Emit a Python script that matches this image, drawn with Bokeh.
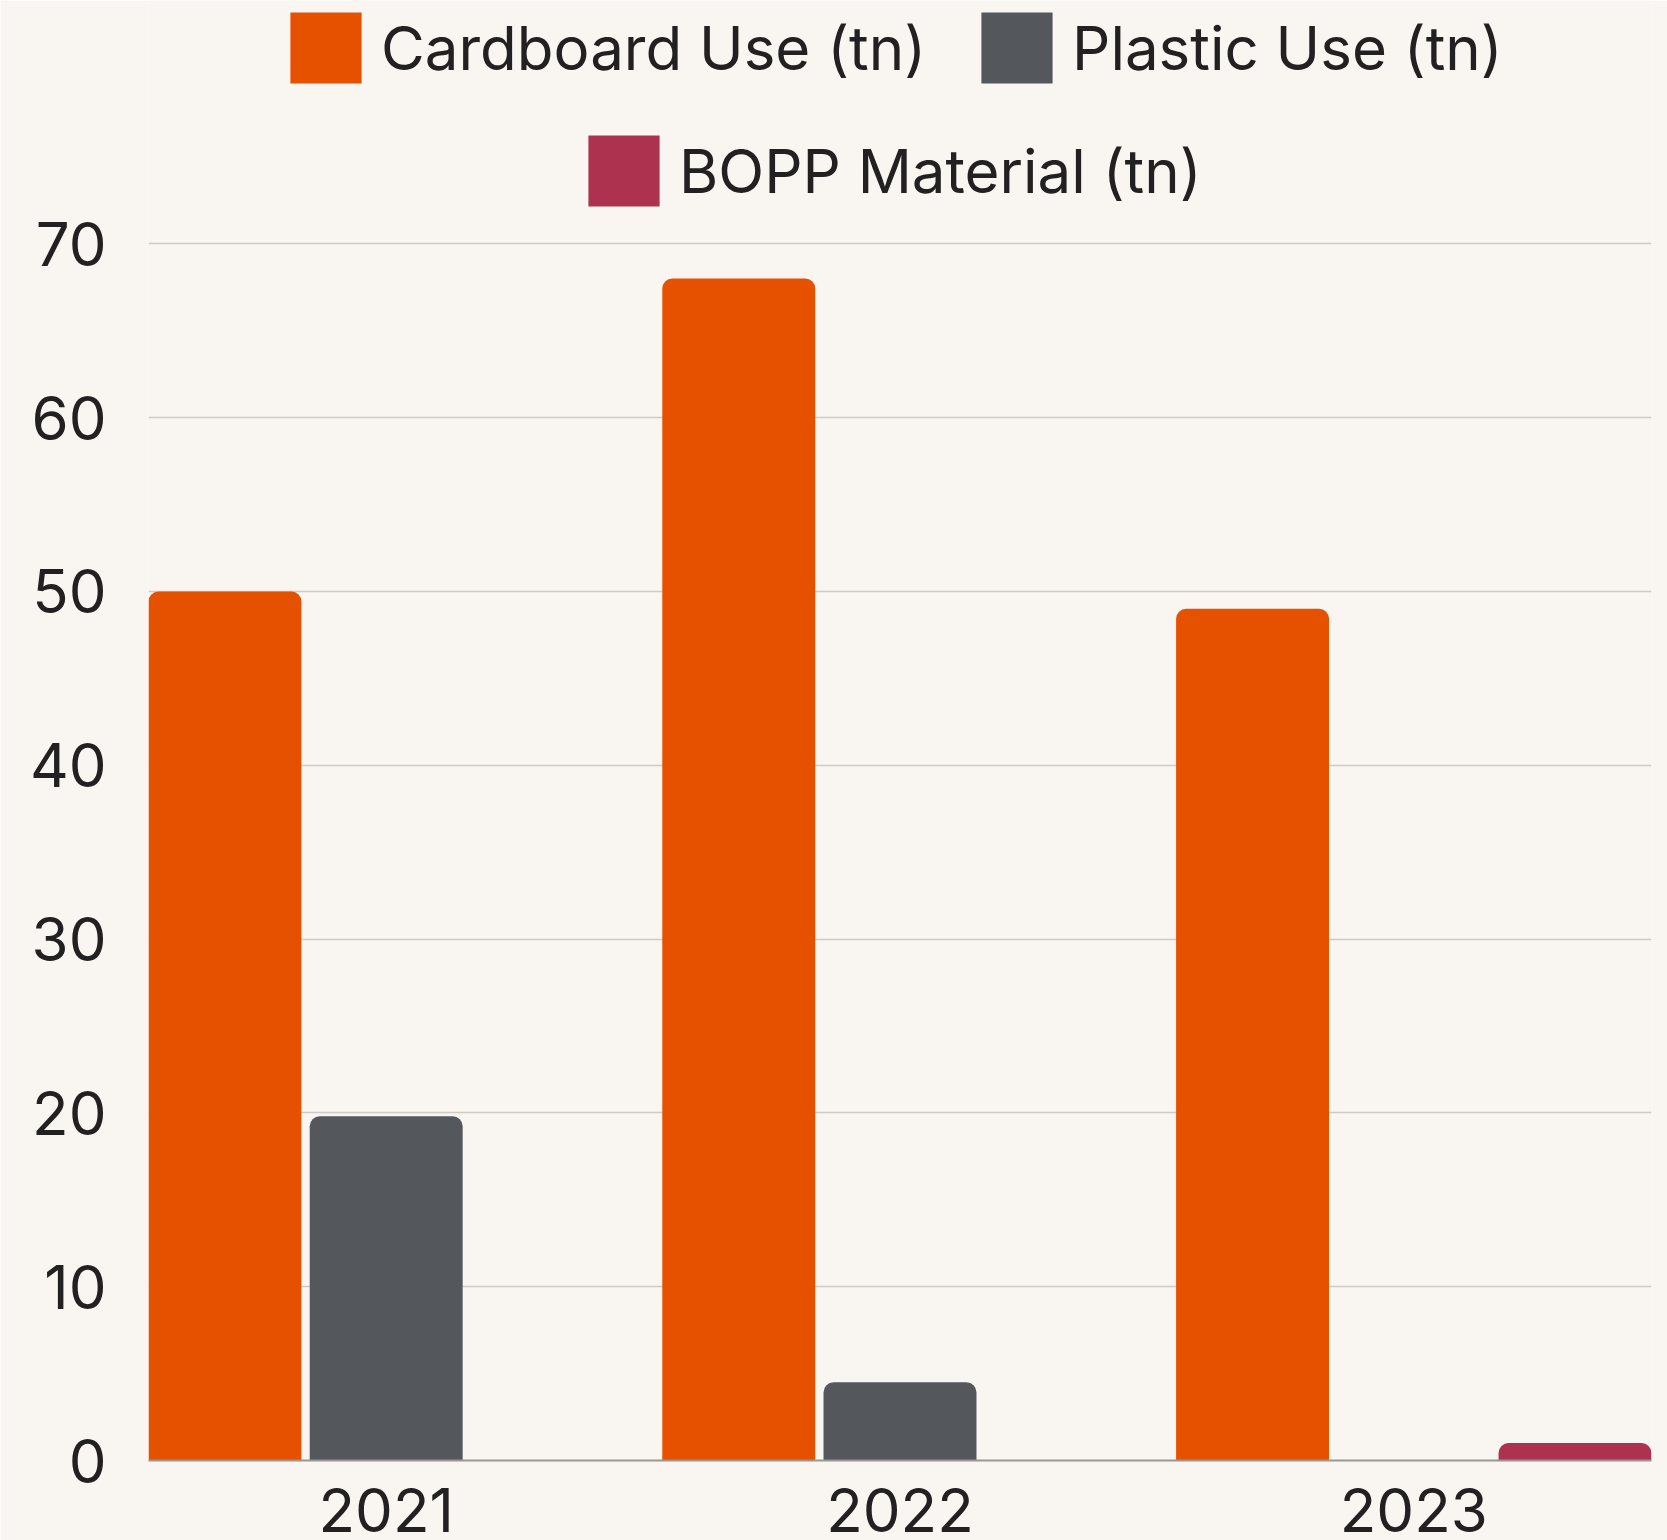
from bokeh.plotting import figure
from bokeh.models import ColumnDataSource, FactorRange, Range1d, Legend, LegendItem, FixedTicker
from bokeh.transform import dodge
from bokeh.embed import file_html
from bokeh.resources import INLINE

years = ["2021", "2022", "2023"]
cardboard = [50, 68, 49]
plastic = [19.8, 4.5, 0]
bopp = [0, 0, 1.0]
y_ticks = [0, 10, 20, 30, 40, 50, 60, 70]

series_names = ["Cardboard Use (tn)", "Plastic Use (tn)", "BOPP Material (tn)"]
series_cols = ["cardboard", "plastic", "bopp"]
colors = ["#E65100", "#54585C", "#AD3250"]

BG = "#F9F6F2"
TEXT = "#222020"
FONT = "Inter"

source = ColumnDataSource(data=dict(years=years, cardboard=cardboard, plastic=plastic, bopp=bopp))

p = figure(
    width=1667, height=1540,
    x_range=FactorRange(factors=years, range_padding=-0.02493),
    y_range=Range1d(0, 84.0),
    output_backend="svg", toolbar_location=None,
    background_fill_color=BG, border_fill_color=BG,
    outline_line_color=None,
    min_border_left=148, min_border_right=16, min_border_top=0, min_border_bottom=80,
)

offsets = [-0.3138, 0.0, 0.3138]
renderers = []
for col, off, c in zip(series_cols, offsets, colors):
    r = p.vbar(x=dodge("years", off, range=p.x_range), top=col, width=0.2977,
               source=source, fill_color=c, line_color=None,
               border_radius=(10, 10, 0, 0))
    renderers.append(r)

p.xgrid.grid_line_color = None
p.ygrid.grid_line_color = "#CFCAC5"
p.ygrid.grid_line_width = 1.5

p.yaxis.ticker = FixedTicker(ticks=y_ticks)
p.yaxis.axis_line_color = None
p.yaxis.major_tick_line_color = None
p.yaxis.minor_tick_line_color = None
p.yaxis.major_label_standoff = 36
p.yaxis.major_label_text_font = FONT
p.yaxis.major_label_text_font_size = "60px"
p.yaxis.major_label_text_color = TEXT

p.xaxis.axis_line_color = "#9A9691"
p.xaxis.axis_line_width = 2
p.xaxis.major_tick_line_color = None
p.xaxis.minor_tick_line_color = None
p.xaxis.major_label_standoff = 21
p.xaxis.major_label_text_font = FONT
p.xaxis.major_label_text_font_size = "60px"
p.xaxis.major_label_text_color = TEXT


def make_legend(items, location):
    return Legend(items=items, orientation="horizontal", location=location,
                  glyph_width=89, glyph_height=89, label_standoff=11, spacing=46,
                  padding=0, margin=0,
                  label_text_font=FONT, label_text_font_size="60px", label_text_color=TEXT,
                  border_line_color=None, background_fill_alpha=0)

leg1 = make_legend([LegendItem(label=series_names[0], renderers=[renderers[0]]),
                    LegendItem(label=series_names[1], renderers=[renderers[1]])], (133, 1368))
leg2 = make_legend([LegendItem(label=series_names[2], renderers=[renderers[2]])], (431, 1245))

p.add_layout(leg1)
p.add_layout(leg2)

open("out.html", "w").write(file_html(p, INLINE))
